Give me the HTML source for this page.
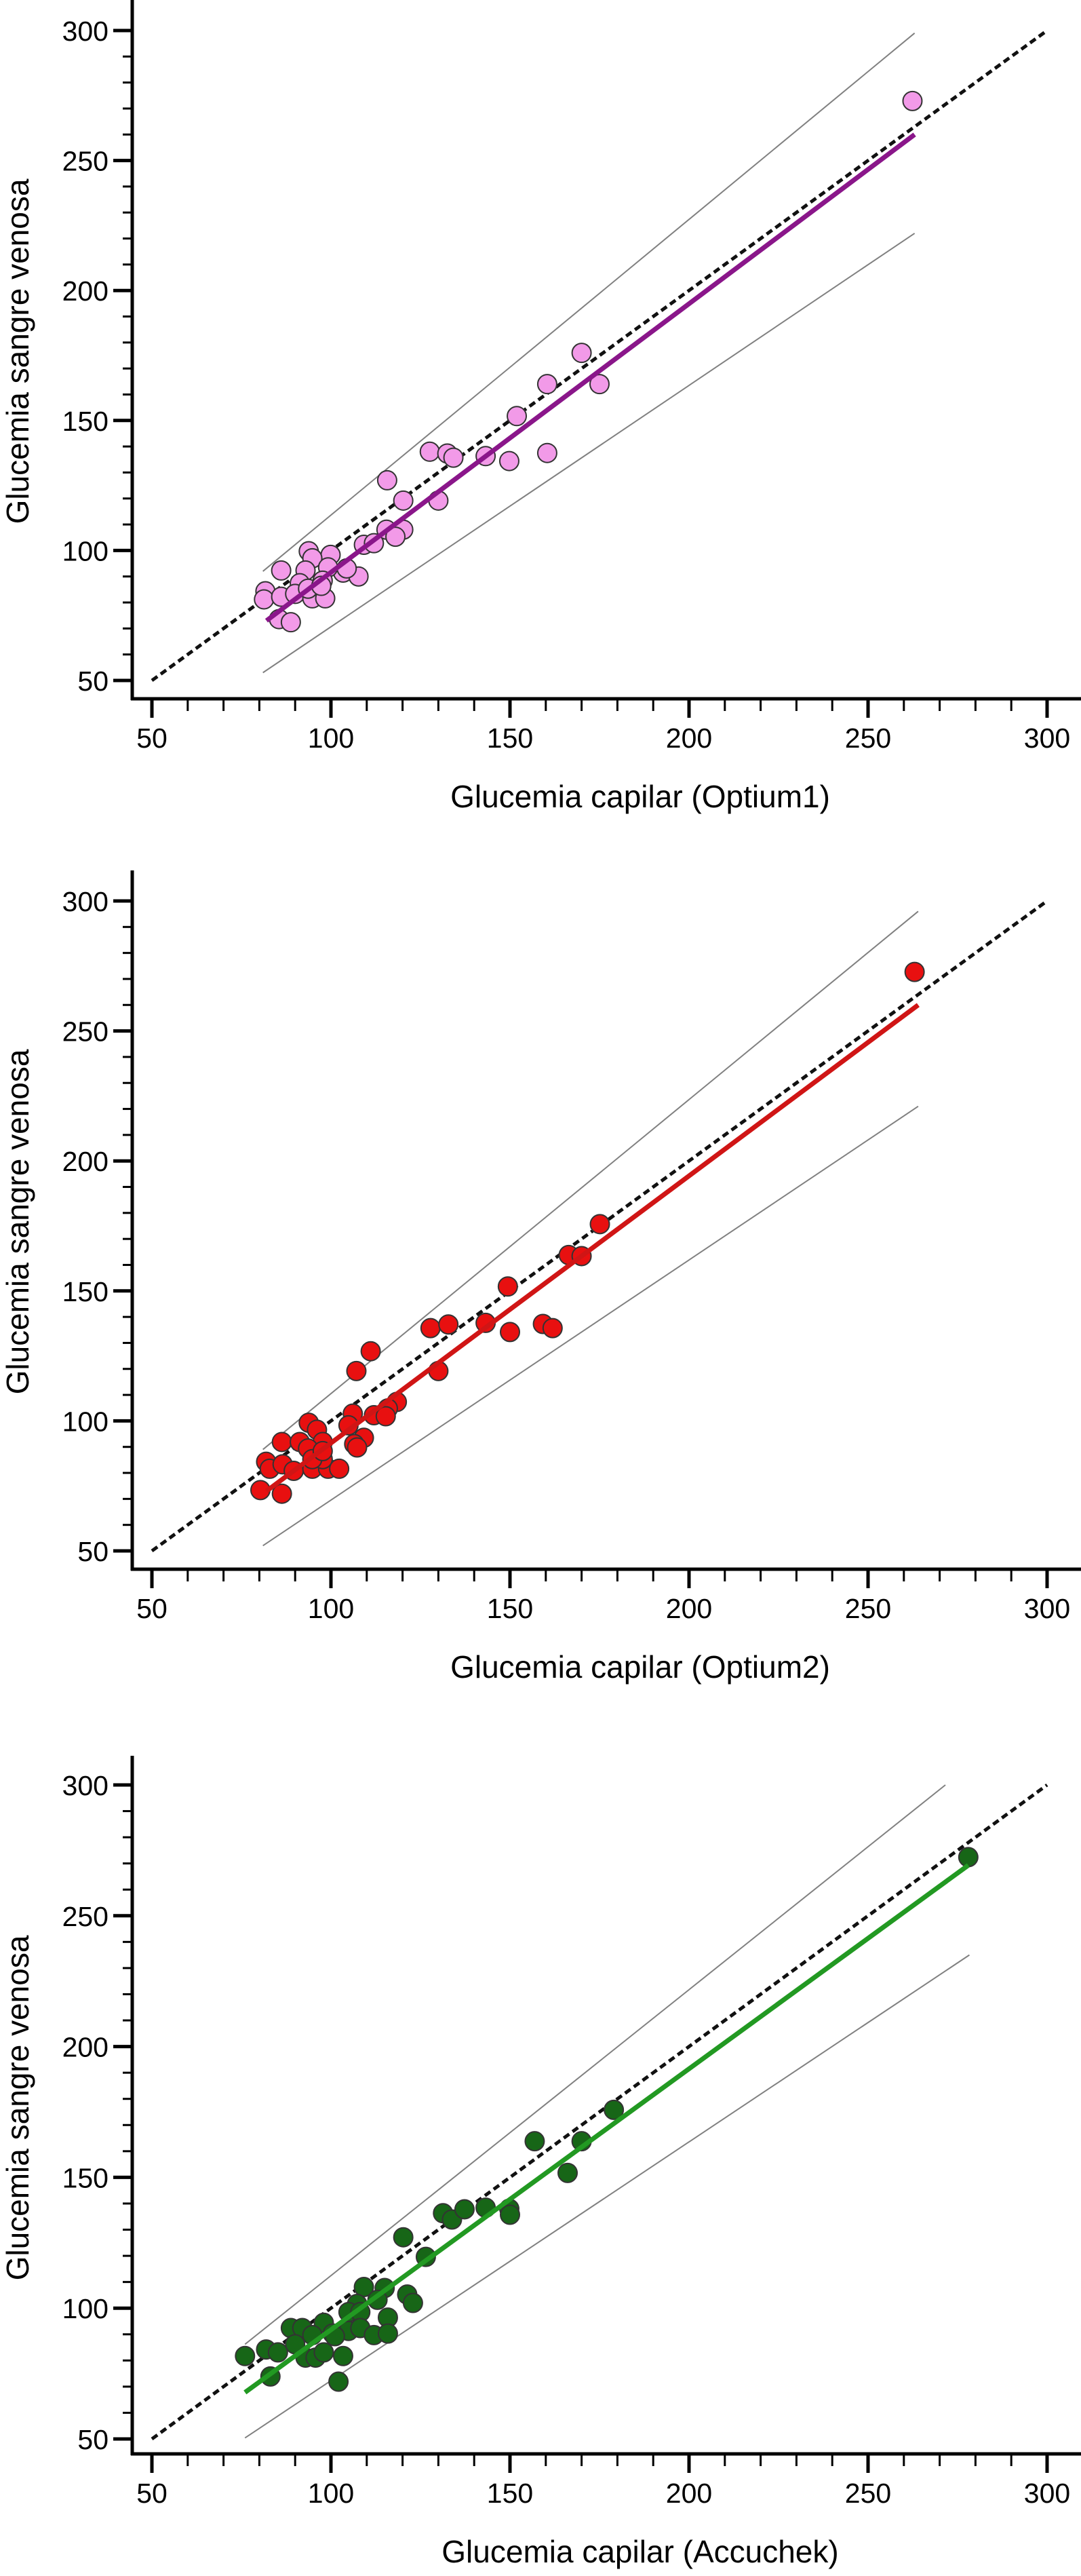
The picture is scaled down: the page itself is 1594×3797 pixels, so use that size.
<!DOCTYPE html>
<html><head><meta charset="utf-8">
<style>
html,body{margin:0;padding:0;background:#fff;}
svg{display:block;}
text{font-family:"Liberation Sans",Arial,sans-serif;fill:#000;}
</style></head>
<body>
<svg id="chart" width="1594" height="3797" viewBox="0 0 1594 3797" xmlns="http://www.w3.org/2000/svg"></svg>
<script>
// Tick values
const majorTicks = [50, 100, 150, 200, 250, 300];
const minorTicks = [60,70,80,90,110,120,130,140,160,170,180,190,210,220,230,240,260,270,280,290];

// Panel 1 (Optium1)
const p1X = [262.4,170,160.4,175,151.9,127.6,132.5,134.2,143.2,149.8,160.4,115.7,120.2,130,115.5,120.2,118,109.2,112,93.8,99.9,94.8,86.1,92.9,103.4,107.7,99.2,97.7,91.3,81.7,81.3,86.1,90,94.8,98.4,93.6,85.5,88.8,97.3,104.4];
const p1Y = [272.9,176,164,164,151.7,138,137.3,135.7,136.3,134.4,137.5,127,119.2,119.2,108,108,105.3,102.2,102.8,99.7,98.3,97,92.3,92.3,91.5,90,93.5,88.4,87.4,84.3,81.2,82.2,83.3,81.6,81.6,85.3,73.6,72.4,86.4,93.1];
const p1Reg = [82,73,263,260];
const p1Up = [81,92,263,299];
const p1Lo = [81,53,263,222];

// Panel 2 (Optium2)
const p2X = [263,175.1,166.4,170,149.4,150,127.8,132.8,143.2,159.2,161.9,111.1,107.1,130,118.4,115.9,112,115.3,106.1,104.9,93.8,96.1,86.3,91.3,97.7,109.2,106.5,107.3,93.6,81.9,82.9,86.5,89.6,94.8,99.2,102.3,97.7,94.8,80.3,86.3,97.7];
const p2Y = [272.7,175.7,163.8,163.4,151.7,134.2,135.7,137.1,137.7,137.3,135.7,126.8,119.2,119.2,107.3,104.8,102.2,101.8,102.8,98.3,99.3,96.6,91.9,91.9,91.9,93.5,91.1,89.8,89.4,84.3,81.6,83.3,80.8,81.6,81.6,81.6,85.3,85.3,73.4,72,88.4];
const p2Reg = [82,73,264,260];
const p2Up = [81,89,264,296];
const p2Lo = [81,52,264,221];

// Panel 3 (Accuchek)
const p3X = [278,179,156.9,170,166.1,131.3,133.8,137.3,143.2,149.8,150,120.2,126.5,109.2,115,121.3,122.9,113,107.3,104.9,108.2,115.9,98,88.8,92,94.8,100.5,104.9,108.2,112,115.9,76,81.9,85.2,90,92.9,95.7,98,103.4,83.1,102.1,101.1];
const p3Y = [272.4,175.8,163.8,163.8,151.7,136.3,133.9,137.8,138.4,138,135.7,127.1,119.6,108.1,107.7,105.2,102,103.2,101.6,98.5,98.5,96.4,94.4,92.4,92.4,89.7,90.3,91.3,92.4,89.7,90.3,81.7,84.2,83.1,86.2,81.1,81.1,83.1,81.7,73.9,71.9,89.3];
const p3Reg = [76,67.8,278,269.3];
const p3Up = [76,86.2,271.6,300];
const p3Lo = [76,50.4,278.3,235];

const NS = "http://www.w3.org/2000/svg";
const svg = document.getElementById('chart');
function mk(tag, attrs, parent){
  const e = document.createElementNS(NS, tag);
  for (const k in attrs) e.setAttribute(k, attrs[k]);
  (parent||svg).appendChild(e);
  return e;
}

const panels = [
  {key:'optium1', top:0, y300:45, y50:1003, axisY:1030, xs:p1X, ys:p1Y, reg:p1Reg, up:p1Up, lo:p1Lo, fill:'#f29ae8', line:'#8a168a', title:'Glucemia capilar (Optium1)'},
  {key:'optium2', top:1283, y300:1328, y50:2286, axisY:2313, xs:p2X, ys:p2Y, reg:p2Reg, up:p2Up, lo:p2Lo, fill:'#e81010', line:'#d01515', title:'Glucemia capilar (Optium2)'},
  {key:'accuchek', top:2588, y300:2631, y50:3595, axisY:3617, xs:p3X, ys:p3Y, reg:p3Reg, up:p3Up, lo:p3Lo, fill:'#176617', line:'#229922', title:'Glucemia capilar (Accuchek)'}
];

const X0 = 224, X1 = 1544, AXX = 195;

panels.forEach(function(p){
  const g = mk('g', {});
  
  
  const sx = function(v){ return X0 + (v - 50) * (X1 - X0) / 250; };
  const sy = function(v){ return p.y50 - (v - 50) * (p.y50 - p.y300) / 250; };

  // axes
  const ya = mk('line', {x1:AXX, y1:p.top, x2:AXX, y2:p.axisY+2, stroke:'#000', 'stroke-width':5}, g);
  
  
  const xa = mk('line', {x1:AXX-2, y1:p.axisY, x2:1594, y2:p.axisY, stroke:'#000', 'stroke-width':5}, g);
  
  

  majorTicks.forEach(function(t){
    const a = mk('line', {x1:sx(t), y1:p.axisY, x2:sx(t), y2:p.axisY+28, stroke:'#000', 'stroke-width':5}, g);
    
    
    const b = mk('line', {x1:AXX, y1:sy(t), x2:AXX-28, y2:sy(t), stroke:'#000', 'stroke-width':5}, g);
    
    
    const lx = mk('text', {x:sx(t), y:p.axisY+72, 'font-size':41, 'text-anchor':'middle'}, g);
    lx.textContent = t;
    
    
    const ly = mk('text', {x:160, y:sy(t)+15, 'font-size':41, 'text-anchor':'end'}, g);
    ly.textContent = t;
    
    
  });
  minorTicks.forEach(function(t){
    const a = mk('line', {x1:sx(t), y1:p.axisY, x2:sx(t), y2:p.axisY+18, stroke:'#000', 'stroke-width':3}, g);
    
    
    const b = mk('line', {x1:AXX, y1:sy(t), x2:AXX-14, y2:sy(t), stroke:'#000', 'stroke-width':3}, g);
    
    
  });

  // limit lines
  const u = mk('line', {x1:sx(p.up[0]), y1:sy(p.up[1]), x2:sx(p.up[2]), y2:sy(p.up[3]), stroke:'#808080', 'stroke-width':2}, g);
  
  
  const l = mk('line', {x1:sx(p.lo[0]), y1:sy(p.lo[1]), x2:sx(p.lo[2]), y2:sy(p.lo[3]), stroke:'#808080', 'stroke-width':2}, g);
  
  

  // identity line
  const id = mk('line', {x1:sx(50), y1:sy(50), x2:sx(300), y2:sy(300), stroke:'#111', 'stroke-width':5, 'stroke-dasharray':'10 6'}, g);
  
  

  // points
  p.xs.forEach(function(xv, i){
    const c = mk('circle', {cx:sx(xv), cy:sy(p.ys[i]), r:14, fill:p.fill, stroke:'#333', 'stroke-width':2}, g);
    
    
  });

  // regression
  const r = mk('line', {x1:sx(p.reg[0]), y1:sy(p.reg[1]), x2:sx(p.reg[2]), y2:sy(p.reg[3]), stroke:p.line, 'stroke-width':7}, g);
  
  

  // titles
  const xt = mk('text', {x:(X0+X1)/2+60, y:p.axisY+160, 'font-size':46, 'text-anchor':'middle'}, g);
  xt.textContent = p.title;
  
  
  const cy = (p.y300 + p.y50)/2 - 6;
  const yt = mk('text', {x:0, y:0, 'font-size':46, 'text-anchor':'middle', transform:'translate(42,'+cy+') rotate(-90)'}, g);
  yt.textContent = 'Glucemia sangre venosa';
  
  
});
</script>
</body></html>
